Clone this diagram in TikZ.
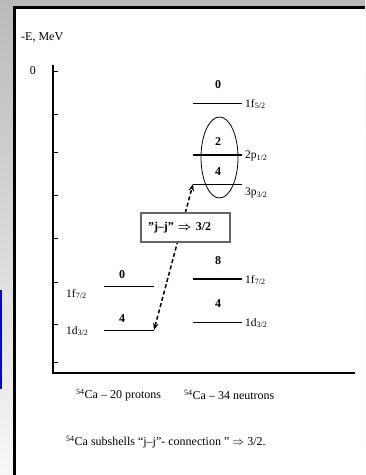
\documentclass[tikz,border=0pt]{standalone}
\usepackage{amsmath}
\usepackage{fontspec}
\setmainfont{Liberation Serif}
\usetikzlibrary{positioning,arrows.meta,shapes.geometric}

\begin{document}
\begin{tikzpicture}[
    x=1pt, y=-1pt,
    every node/.style={inner sep=0pt, font=\fontsize{12}{14}\selectfont},
    level/.style={draw=black, line width=1pt},
    filled/.style={draw=black, line width=2.4pt},
    occ/.style={font=\fontsize{12}{14}\selectfont\bfseries},
    shell/.style={anchor=west, font=\fontsize{11.5}{14}\selectfont},
    axis/.style={draw=black, line width=1.2pt},
    tick/.style={draw=black, line width=1pt},
    jump/.style={draw=black, line width=1.5pt, dash pattern=on 4pt off 2.5pt,
                 {Stealth[length=7pt,width=5.5pt]}-{Stealth[length=7pt,width=5.5pt]}},
    jjbox/.style={draw=black!60, fill=white, line width=1.2pt, minimum height=29pt,
                  text width=75pt, inner xsep=7pt, align=left,
                  font=\fontsize{12}{14}\selectfont\bfseries},
    group/.style={draw=black, line width=0.8pt, ellipse, minimum width=37pt, minimum height=81pt}
]

% Page background and frame
\useasboundingbox (0,0) rectangle (365,475);
\fill[top color=black!27, bottom color=black!3] (0,0) rectangle (365,475);
\fill[white] (13,6) rectangle (365,475);
\draw[line width=2.6pt] (14.3,475) -- (14.3,7.3) -- (365,7.3);
\fill[blue] (0,290) rectangle (2,389);

% Energy axis
\node[anchor=west] (elab) at (21,37) {-E, MeV};
\coordinate (top) at (53,65);
\coordinate (origin) at (53,373);
\coordinate (right) at (355,373);
\draw[axis] (top) -- (origin) -- (right);
\foreach \y in {71,114,152,195,238,282,324,362}
    \draw[tick] (53,\y) -- ++(5,0);
\node (zero) at (33,71) {0};

% Proton levels
\coordinate (pf72w) at (104,286); \coordinate (pf72e) at (154,286);
\coordinate (pd32w) at (104,330); \coordinate (pd32e) at (154,330);
\draw[level] (pf72w) -- (pf72e);
\draw[level] (pd32w) -- (pd32e);
\node[occ] (pf72n) at (122,275) {0};
\node[occ] (pd32n) at (122,319) {4};
\node[shell] (pf72lab) at (66,294) {1f\textsubscript{7/2}};
\node[shell] (pd32lab) at (66,331) {1d\textsubscript{3/2}};

% Neutron levels
\coordinate (nf52w) at (193,103); \coordinate (nf52e) at (242,103);
\coordinate (np12w) at (193,155); \coordinate (np12e) at (242,155);
\coordinate (np32w) at (193,184); \coordinate (np32e) at (242,184);
\coordinate (nf72w) at (193,279); \coordinate (nf72e) at (242,279);
\coordinate (nd32w) at (193,322); \coordinate (nd32e) at (242,322);
\draw[level] (nf52w) -- (nf52e);
\draw[filled] (np12w) -- (np12e);
\draw[level] (np32w) -- (np32e);
\draw[filled] (nf72w) -- (nf72e);
\draw[level] (nd32w) -- (nd32e);
\node[occ] (nf52n) at (218,85) {0};
\node[occ] (np12n) at (218,142) {2};
\node[occ] (np32n) at (218,172) {4};
\node[occ] (nf72n) at (218,261) {8};
\node[occ] (nd32n) at (218,304) {4};
\node[shell] (nf52lab) at (245,104) {1f\textsubscript{5/2}};
\node[shell] (np12lab) at (245,156) {2p\textsubscript{1/2}};
\node[shell] (np32lab) at (245,193) {3p\textsubscript{3/2}};
\node[shell] (nf72lab) at (245,280) {1f\textsubscript{7/2}};
\node[shell] (nd32lab) at (245,323) {1d\textsubscript{3/2}};

% Open p-shells
\node[group] (pgroup) at (219.5,157.5) {};

% Coupling
\draw[jump] (pd32e) -- (np32w);
\node[jjbox] (jj) at (185.5,227.5) {”j–j” $\boldsymbol{\Rightarrow}$ 3/2};

% Captions
\node[anchor=west] (protons) at (76,395) {\textsuperscript{54}Ca – 20 protons};
\node[anchor=west] (neutrons) at (184,395) {\textsuperscript{54}Ca – 34 neutrons};
\node[anchor=west] (note) at (66,442) {\textsuperscript{54}Ca subshells “j–j”- connection ” $\Rightarrow$ 3/2.};
\end{tikzpicture}
\end{document}
